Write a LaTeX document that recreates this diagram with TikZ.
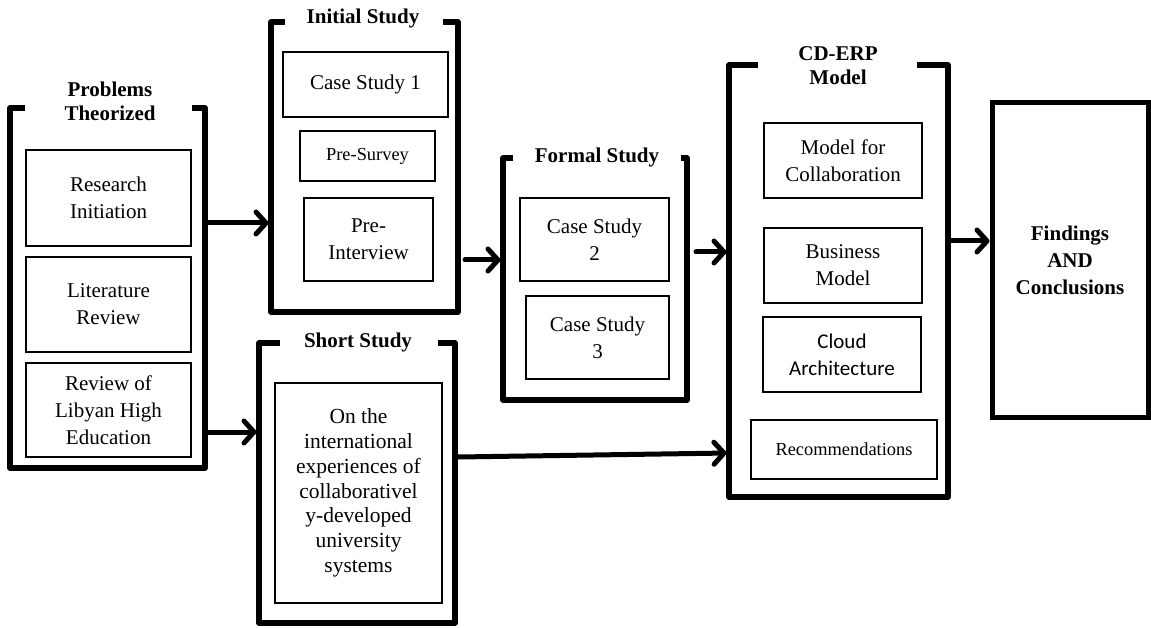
\documentclass[tikz,border=0pt]{standalone}
\usepackage{fontspec}
\setmainfont{Liberation Serif}
\newfontfamily\calibrifont{Carlito}
\usetikzlibrary{arrows.meta}

\begin{document}
\begin{tikzpicture}[x=1pt,y=-1pt,
  frame/.style={draw=none,inner sep=0pt,outer sep=0pt},
  bracket/.style={line width=5.5pt,line join=round,line cap=butt},
  heavybox/.style={draw,line width=5pt,inner sep=0pt,outer sep=0pt,align=center,
    font=\fontsize{21}{27}\selectfont\bfseries},
  title/.style={inner sep=0pt,align=center,font=\fontsize{21}{24}\selectfont\bfseries},
  item/.style={draw,line width=1.3pt,inner sep=0pt,align=center,
    font=\fontsize{21}{27}\selectfont},
  smallitem/.style={item,font=\fontsize{18.4}{24}\selectfont},
  arr/.style={line width=5pt,line cap=round,line join=round,
    -{Straight Barb[length=10pt,width=22pt,line cap=round,line join=round]}},
]
\useasboundingbox (0,0) rectangle (1151,628);

% ---- containers (open-top frames) ----
\node[frame,minimum width=195,minimum height=360] (P) at (107.5,288) {};
\node[frame,minimum width=187,minimum height=290] (I) at (364.5,167) {};
\node[frame,minimum width=196,minimum height=280] (S) at (357,483) {};
\node[frame,minimum width=184,minimum height=242] (F) at (595,279) {};
\node[frame,minimum width=219,minimum height=432] (C) at (838.5,281) {};

\draw[bracket] ([xshift=15]P.north west) -- (P.north west) -- (P.south west)
  -- (P.south east) -- (P.north east) -- ([xshift=-13]P.north east);
\draw[bracket] ([xshift=14]I.north west) -- (I.north west) -- (I.south west)
  -- (I.south east) -- (I.north east) -- ([xshift=-15]I.north east);
\draw[bracket] ([xshift=21]S.north west) -- (S.north west) -- (S.south west)
  -- (S.south east) -- (S.north east) -- ([xshift=-17]S.north east);
\draw[bracket] ([xshift=10]F.north west) -- (F.north west) -- (F.south west)
  -- (F.south east) -- (F.north east) -- ([xshift=-6]F.north east);
\draw[bracket] ([xshift=29]C.north west) -- (C.north west) -- (C.south west)
  -- (C.south east) -- (C.north east) -- ([xshift=-31]C.north east);

% ---- titles ----
\node[title] (Pt) at (110,101) {Problems\\Theorized};
\node[title] (It) at (363,18) {Initial Study};
\node[title] (St) at (358,342) {Short Study};
\node[title] (Ft) at (597,157) {Formal Study};
\node[title] (Ct) at (838,66) {CD-ERP\\Model};

% ---- Problems Theorized ----
\node[item,line width=2.6pt,minimum width=165,minimum height=96] (RI) at (108.5,198) {Research\\Initiation};
\node[item,line width=2.6pt,minimum width=165,minimum height=95] (LR) at (108.5,304.5) {Literature\\Review};
\node[item,line width=2.6pt,minimum width=165,minimum height=94] (RL) at (108.5,410) {Review of\\Libyan High\\Education};

% ---- Initial Study ----
\node[item,line width=2pt,minimum width=165,minimum height=65] (CS1) at (365.5,84.5) {Case Study 1};
\node[smallitem,minimum width=135,minimum height=50] (PS) at (367.5,156) {Pre-Survey};
\node[item,minimum width=129,minimum height=83] (PI) at (368.5,239.5) {Pre-\\Interview};

% ---- Formal Study ----
\node[item,minimum width=149,minimum height=83] (CS2) at (594.5,239.5) {Case Study\\2};
\node[item,minimum width=143,minimum height=83] (CS3) at (597.5,337.5) {Case Study\\3};

% ---- Short Study ----
\node[item,font=\fontsize{21.5}{24.8}\selectfont,minimum width=167,minimum height=220] (SS) at (358.5,493)
  {On the\\international\\experiences of\\collaborativel\\y-developed\\university\\systems};

% ---- CD-ERP Model ----
\node[item,minimum width=158,minimum height=75] (MC) at (843,160.5) {Model for\\Collaboration};
\node[item,minimum width=158,minimum height=75] (BM) at (843,265.5) {Business\\Model};
\node[item,font=\calibrifont\fontsize{21}{27}\selectfont,minimum width=158,minimum height=75] (CA) at (842,354.5) {Cloud\\Architecture};
\node[smallitem,minimum width=186,minimum height=59] (RC) at (844,449.5) {Recommendations};

% ---- Findings ----
\node[heavybox,minimum width=156,minimum height=314] (FC) at (1070,260) {Findings\\AND\\Conclusions};

% ---- connectors ----
\draw[arr,shorten >=2.5pt] ([xshift=3pt]P.east |- 0,223) -- (I.west |- 0,223);
\draw[arr,shorten >=2.5pt] ([xshift=3pt]P.east |- 0,432) -- (S.west |- 0,432);
\draw[arr,shorten >=2.5pt] ([xshift=7pt]I.east |- 0,260) -- (F.west |- 0,260);
\draw[arr,shorten >=2.5pt] ([xshift=9pt]F.east |- 0,252) -- (C.west |- 0,252);
\draw[arr,shorten >=2.5pt] ([xshift=3pt]S.east |- 0,457) -- (C.west |- 0,453);
\draw[arr,shorten >=2.5pt] ([xshift=3pt]C.east |- 0,241) -- (FC.west |- 0,241);
\end{tikzpicture}
\end{document}
